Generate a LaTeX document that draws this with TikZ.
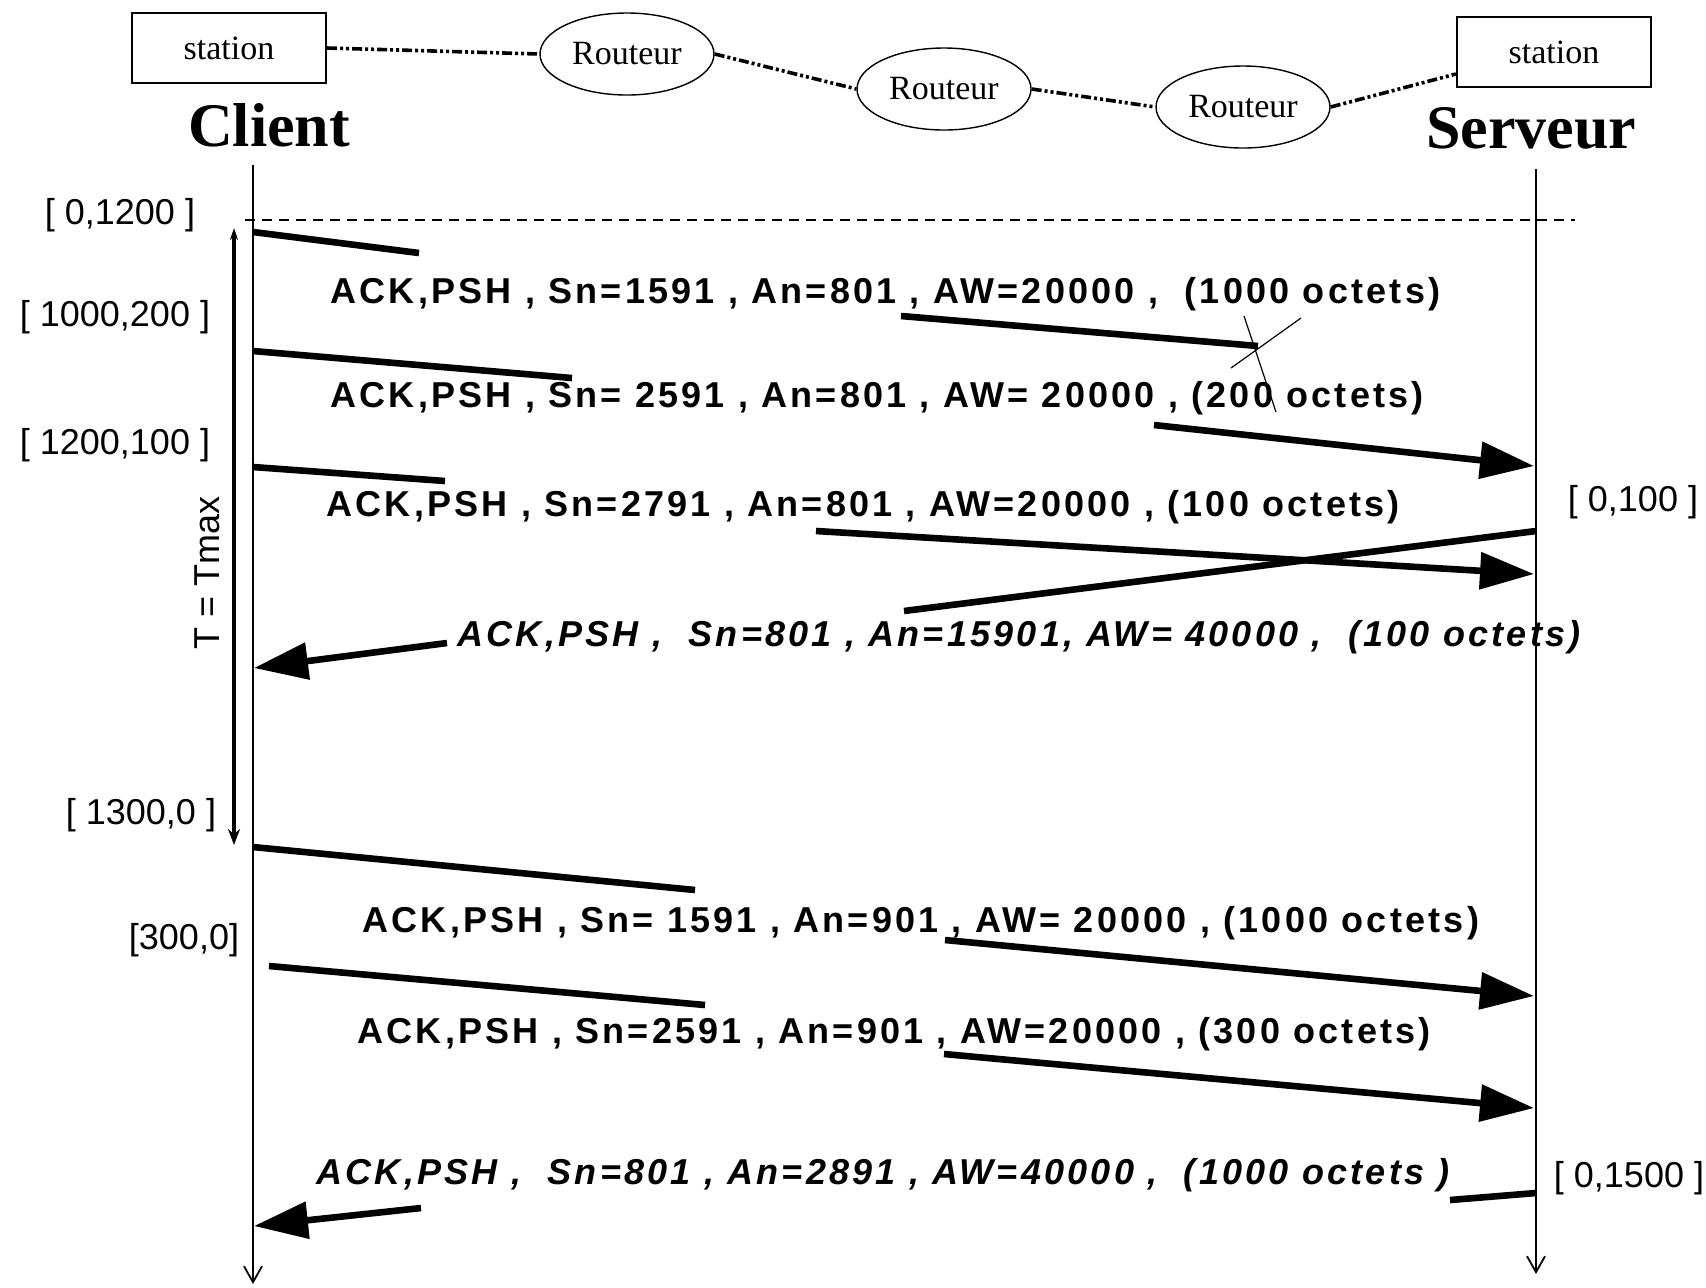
\documentclass[tikz,border=0pt]{standalone}
\usepackage{fontspec}
\setmainfont{Liberation Serif}
\setsansfont{Liberation Sans}
\newfontfamily\msgfont[LetterSpace=9]{Liberation Sans}
\usetikzlibrary{shapes.geometric,arrows.meta}

\begin{document}
\begin{tikzpicture}[x=0.5pt,y=-0.5pt, every node/.style={inner sep=0pt},
    host/.style={draw, rectangle, line width=1.1pt, minimum width=97pt, minimum height=35pt, font=\fontsize{17}{19}\selectfont},
    routeur/.style={draw, ellipse, line width=0.7pt, minimum width=87pt, minimum height=41pt, font=\fontsize{17}{19}\selectfont},
    side/.style={font=\fontsize{31}{33}\selectfont\bfseries},
    link/.style={line width=1.8pt, dash pattern=on 5pt off 1.5pt on 1.5pt off 1.5pt on 1.5pt off 1.5pt},
    life/.style={line width=0.9pt, -{Straight Barb[length=8pt,width=9pt]}},
    seg/.style={line width=3.3pt},
    segarrow/.style={line width=3.3pt, -{Triangle[length=27pt,width=18pt]}},
    lost/.style={line width=0.6pt},
    msg/.style={anchor=west, font=\msgfont\bfseries\fontsize{18}{20}\selectfont},
    rep/.style={anchor=west, font=\msgfont\bfseries\itshape\fontsize{18}{20}\selectfont},
    win/.style={font=\sffamily\fontsize{18}{20}\selectfont}]
    \useasboundingbox (0,0) rectangle (1706,1287);

    \node[host] (st1) at (229,48) {station};
    \node[routeur] (r1) at (627,54) {Routeur};
    \node[routeur] (r2) at (944,89) {Routeur};
    \node[routeur] (r3) at (1243,107) {Routeur};
    \node[host] (st2) at (1554,52) {station};
    \draw[link] (st1.east) -- (r1.west);
    \draw[link] (r1.east) -- (r2.west);
    \draw[link] (r2.east) -- (r3.west);
    \draw[link] (r3.east) -- ([yshift=-11pt]st2.west);

    \node[side] (cli) at (269,125) {Client};
    \node[side] (srv) at (1531,128) {Serveur};
    \coordinate (c0) at (253,165);
    \coordinate (c1) at (253,1284);
    \coordinate (s0) at (1536,169);
    \coordinate (s1) at (1536,1274);
    \draw[life] (c0) -- (c1);
    \draw[life] (s0) -- (s1);

    \coordinate (d0) at (245,220);
    \coordinate (d1) at (1575,220);
    \draw[line width=0.6pt, dash pattern=on 5pt off 3.5pt] (d0) -- (d1);

    \coordinate (t0) at (234,228);
    \coordinate (t1) at (234,845);
    \draw[line width=1.7pt, {Stealth[length=6pt,width=4pt]}-{Stealth[length=8pt,width=6pt]}] (t0) -- (t1);
    \node[win, rotate=90] (tmax) at (207,573) {T = Tmax};

    \node[win] (w0) at (120,215) {[ 0,1200 ]};
    \node[win] (w1) at (115,317) {[ 1000,200 ]};
    \node[win] (w2) at (115,445) {[ 1200,100 ]};
    \node[win] (w3) at (141,815) {[ 1300,0 ]};
    \node[win] (w4) at (184,940) {[300,0]};
    \node[win] (w5) at (1633,502) {[ 0,100 ]};
    \node[win] (w6) at (1629,1178) {[ 0,1500 ]};

    \node[msg] (l1) at (330,294) {ACK,PSH , Sn=1591 , An=801 , AW=20000 , \ (1000 octets)};
    \node[msg] (l2) at (330,398) {ACK,PSH , Sn= 2591 , An=801 , AW= 20000 , (200 octets)};
    \node[msg] (l3) at (326,507) {ACK,PSH , Sn=2791 , An=801 , AW=20000 , (100 octets)};
    \node[rep] (l4) at (457,637) {ACK,PSH , \ Sn=801 , An=15901, AW= 40000 , \ (100 octets)};
    \node[msg] (l5) at (362,923) {ACK,PSH , Sn= 1591 , An=901 , AW= 20000 , (1000 octets)};
    \node[msg] (l6) at (357,1034) {ACK,PSH , Sn=2591 , An=901 , AW=20000 , (300 octets)};
    \node[rep] (l7) at (316,1175) {ACK,PSH , \ Sn=801 , An=2891 , AW=40000 , \ (1000 octets )};

    \coordinate (a1) at (253,232);
    \coordinate (b1) at (419,253);
    \coordinate (e1) at (901,316);
    \coordinate (f1) at (1258,346);
    \draw[seg] (a1) -- (b1);
    \draw[seg] (e1) -- (f1);
    \coordinate (xa) at (1244,316);
    \coordinate (xb) at (1276,412);
    \coordinate (xc) at (1231,368);
    \coordinate (xd) at (1301,318);
    \draw[lost] (xa) -- (xb);
    \draw[lost] (xc) -- (xd);

    \coordinate (a2) at (253,351);
    \coordinate (b2) at (572,378);
    \coordinate (e2) at (1154,425);
    \coordinate (f2) at (1534,466);
    \draw[seg] (a2) -- (b2);
    \draw[segarrow] (e2) -- (f2);

    \coordinate (a3) at (253,467);
    \coordinate (b3) at (445,481);
    \coordinate (e3) at (816,531);
    \coordinate (f3) at (1534,574);
    \draw[seg] (a3) -- (b3);
    \draw[segarrow] (e3) -- (f3);

    \coordinate (a4) at (1536,531);
    \coordinate (b4) at (904,611);
    \coordinate (e4) at (447,643);
    \coordinate (f4) at (254,668);
    \draw[seg] (a4) -- (b4);
    \draw[segarrow] (e4) -- (f4);

    \coordinate (a5) at (253,847);
    \coordinate (b5) at (695,890);
    \coordinate (e5) at (945,940);
    \coordinate (f5) at (1534,996);
    \draw[seg] (a5) -- (b5);
    \draw[segarrow] (e5) -- (f5);

    \coordinate (a6) at (269,966);
    \coordinate (b6) at (705,1005);
    \coordinate (e6) at (944,1054);
    \coordinate (f6) at (1534,1108);
    \draw[seg] (a6) -- (b6);
    \draw[segarrow] (e6) -- (f6);

    \coordinate (a7) at (1536,1193);
    \coordinate (b7) at (1450,1200);
    \coordinate (e7) at (421,1208);
    \coordinate (f7) at (254,1226);
    \draw[seg] (a7) -- (b7);
    \draw[segarrow] (e7) -- (f7);
\end{tikzpicture}
\end{document}
